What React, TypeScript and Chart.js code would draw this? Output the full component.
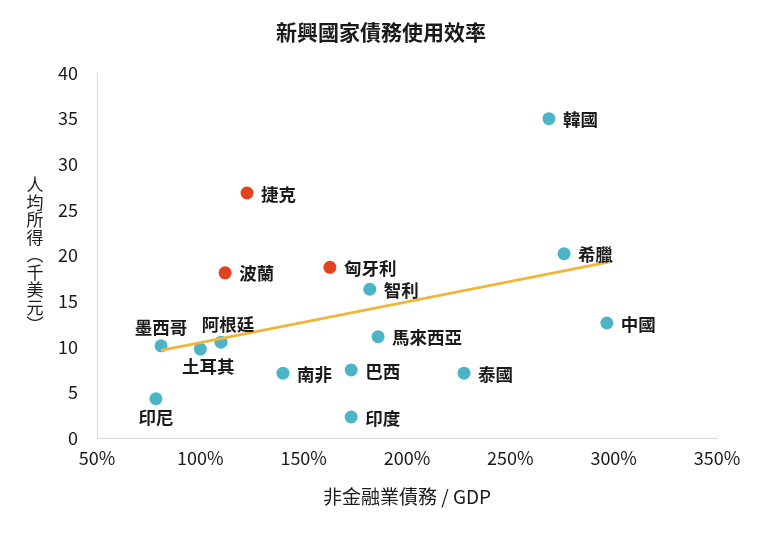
import React, { useEffect, useRef } from "react";
import { Chart, registerables } from "chart.js";

Chart.register(...registerables);

// Emerging markets (teal)
const emNames = ["韓國", "希臘", "智利", "中國", "馬來西亞", "墨西哥", "阿根廷", "土耳其", "南非", "巴西", "泰國", "印尼", "印度"];
const emDebt = [268.7, 276, 182, 296.7, 186, 81, 110, 100, 140, 173, 227.6, 78.5, 173];
const emIncome = [35.0, 20.2, 16.3, 12.6, 11.1, 10.1, 10.5, 9.75, 7.1, 7.45, 7.1, 4.3, 2.3];

// Central / Eastern Europe (red)
const ceNames = ["捷克", "波蘭", "匈牙利"];
const ceDebt = [122.6, 112, 162.7];
const ceIncome = [26.85, 18.1, 18.7];

// Trend line end points
const trendDebt = [81, 298];
const trendIncome = [9.6, 19.3];

const xTicks = [50, 100, 150, 200, 250, 300, 350];
const yTicks = [0, 5, 10, 15, 20, 25, 30, 35, 40];

const titleText = "新興國家債務使用效率";
const xTitle = "非金融業債務 / GDP";
const yTitle = ["人", "均", "所", "得", "︵", "千", "美", "元", "︶"];

// label placement (style, not data)
const placement: Record<string, string> = {
  墨西哥: "above",
  阿根廷: "aboveRight",
  土耳其: "belowRight",
  印尼: "below",
};

const FONT = "'Noto Sans CJK TC', 'Noto Sans', sans-serif";

const labelsPlugin = {
  id: "pointLabels",
  afterDatasetsDraw(chart: any) {
    const ctx = chart.ctx;
    ctx.save();
    ctx.font = `bold 17.5px ${FONT}`;
    ctx.fillStyle = "#1a1a1a";
    chart.data.datasets.forEach((ds: any, di: number) => {
      if (!ds.names) return;
      const meta = chart.getDatasetMeta(di);
      meta.data.forEach((pt: any, i: number) => {
        const name = ds.names[i];
        const p = placement[name] || "right";
        let x = pt.x, y = pt.y;
        ctx.textBaseline = "middle";
        if (p === "right") {
          ctx.textAlign = "left";
          x += 14; y += 1;
        } else if (p === "above") {
          ctx.textAlign = "center";
          y -= 18;
        } else if (p === "aboveRight") {
          ctx.textAlign = "center";
          x += 7; y -= 18;
        } else if (p === "belowRight") {
          ctx.textAlign = "center";
          x += 8; y += 17;
        } else if (p === "below") {
          ctx.textAlign = "center";
          y += 19;
        }
        ctx.fillText(name, x, y);
      });
    });
    ctx.restore();
  },
  afterDraw(chart: any) {
    const ctx = chart.ctx;
    const area = chart.chartArea;
    ctx.save();
    ctx.fillStyle = "#1a1a1a";
    ctx.textAlign = "center";
    ctx.textBaseline = "middle";
    ctx.font = `bold 21px ${FONT}`;
    ctx.fillText(titleText, 381, 32);
    ctx.font = `19px ${FONT}`;
    ctx.fillText(xTitle, (area.left + area.right) / 2, 497);
    ctx.font = `17px ${FONT}`;
    yTitle.forEach((c, i) => {
      ctx.fillText(c, 35, 185 + i * 17.5);
    });
    ctx.restore();
  },
};

export default function App() {
  const ref = useRef<HTMLCanvasElement>(null);
  useEffect(() => {
    document.body.style.margin = "0";
    const chart = new Chart(ref.current!, {
      type: "scatter",
      data: {
        datasets: [
          {
            label: "趨勢線",
            data: trendDebt.map((x, i) => ({ x, y: trendIncome[i] })),
            showLine: true,
            borderColor: "#F2B53C",
            borderWidth: 3,
            pointRadius: 0,
            order: 0,
          } as any,
          {
            label: "新興國家",
            names: emNames,
            data: emDebt.map((x, i) => ({ x, y: emIncome[i] })),
            backgroundColor: "#4BB5C7",
            borderWidth: 0,
            pointRadius: 6.5,
            order: 1,
          } as any,
          {
            label: "中東歐",
            names: ceNames,
            data: ceDebt.map((x, i) => ({ x, y: ceIncome[i] })),
            backgroundColor: "#E2431E",
            borderWidth: 0,
            pointRadius: 6.5,
            order: 1,
          } as any,
        ],
      },
      options: {
        animation: false,
        responsive: false,
        layout: { padding: { top: 73, right: 43, bottom: 0, left: 0 } },
        plugins: { legend: { display: false }, tooltip: { enabled: false }, title: { display: false } },
        scales: {
          x: {
            type: "linear",
            min: 50,
            max: 350,
            afterFit: (s: any) => { s.height = 95; },
            afterBuildTicks: (s: any) => { s.ticks = xTicks.map((v) => ({ value: v })); },
            grid: { drawOnChartArea: false, drawTicks: false },
            border: { display: true, color: "#D9D9D9", width: 1 },
            ticks: {
              padding: 9,
              color: "#1a1a1a",
              font: { family: FONT, size: 18 },
              callback: (v: any) => v + "%",
            },
          },
          y: {
            type: "linear",
            min: 0,
            max: 40,
            afterFit: (s: any) => { s.width = 97; },
            afterBuildTicks: (s: any) => { s.ticks = yTicks.map((v) => ({ value: v })); },
            grid: { drawOnChartArea: false, drawTicks: false },
            border: { display: true, color: "#D9D9D9", width: 1 },
            ticks: {
              padding: 19,
              color: "#1a1a1a",
              font: { family: FONT, size: 18 },
            },
          },
        },
      } as any,
      plugins: [labelsPlugin],
    });
    return () => chart.destroy();
  }, []);
  return <canvas ref={ref} width={760} height={533} style={{ display: "block" }} />;
}
